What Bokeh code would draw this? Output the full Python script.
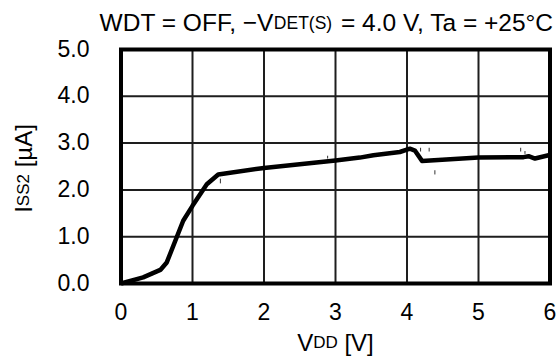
import math
from bokeh.plotting import figure
from bokeh.models import Range1d
from bokeh.core.properties import value
from bokeh.embed import file_html
from bokeh.resources import INLINE

# ---- data ----
vdd = [0.0, 0.31, 0.55, 0.64, 0.87, 1.0, 1.20, 1.36, 2.0, 3.0, 3.34, 3.53, 3.90,
       4.04, 4.11, 4.21, 5.0, 5.63, 5.70, 5.79, 5.98, 6.0]
iss = [0.0, 0.13, 0.29, 0.45, 1.34, 1.66, 2.12, 2.33, 2.47, 2.63, 2.69, 2.74, 2.81,
       2.88, 2.84, 2.62, 2.69, 2.70, 2.72, 2.67, 2.74, 2.74]

spike_x = [1.39, 2.89, 4.19, 4.31, 4.39, 5.59, 5.65]
spike_y0 = [2.14, 2.67, 2.82, 2.82, 2.33, 2.82, 2.77]
spike_y1 = [2.24, 2.73, 2.90, 2.90, 2.42, 2.90, 2.83]

x_ticks = [0, 1, 2, 3, 4, 5, 6]
x_tick_labels = ["0", "1", "2", "3", "4", "5", "6"]
y_ticks = [0, 1, 2, 3, 4, 5]
y_tick_labels = ["0.0", "1.0", "2.0", "3.0", "4.0", "5.0"]

title_parts = ["WDT = OFF, \u2212V", "DET(S)", " = 4.0 V, Ta = +25\u00b0C"]
xlabel_parts = ["V", "DD", " [V]"]
ylabel_parts = ["I", "SS2", " [\u00b5A]"]

# ---- layout (pixels) ----
FONT = "Liberation Sans"
W, H = 558, 356
FL, FR, FT, FB = 120.5, 549.5, 49.0, 283.0   # plot box edges
XMIN, XMAX, YMIN, YMAX = 0.0, 6.0, 0.0, 5.0
PX = (FR - FL) / (XMAX - XMIN)
PY = (FB - FT) / (YMAX - YMIN)
SHIFT = 8  # empirical text baseline correction

ARIAL = {"W": 944, "D": 722, "T": 611, " ": 278, "=": 584, "O": 778, "F": 611,
         ",": 278, "\u2212": 584, "V": 667, "E": 667, "(": 333, "S": 667, ")": 333,
         "4": 556, ".": 278, "0": 556, "a": 556, "+": 584, "2": 556, "5": 556,
         "\u00b0": 400, "C": 722, "I": 278, "[": 278, "]": 278, "\u00b5": 576, "A": 667}


def tw(s, size):
    return sum(ARIAL.get(c, 556) for c in s) * size / 1000.0


def dx(xpx):
    return XMIN + (xpx - FL) / PX


def dy(ypx):
    return YMIN + (FB - ypx) / PY


p = figure(width=W, height=H,
           x_range=Range1d(dx(0), dx(W)), y_range=Range1d(dy(H), dy(0)),
           x_axis_type=None, y_axis_type=None,
           output_backend="svg", toolbar_location=None, min_border=0)
p.background_fill_color = "white"
p.border_fill_color = "white"
p.outline_line_color = None
p.xgrid.visible = False
p.ygrid.visible = False

# grid lines at the tick positions
p.segment(x0=x_ticks, y0=[YMIN] * len(x_ticks), x1=x_ticks, y1=[YMAX] * len(x_ticks),
          line_color="#1e1e1e", line_width=2)
p.segment(x0=[XMIN] * len(y_ticks), y0=y_ticks, x1=[XMAX] * len(y_ticks), y1=y_ticks,
          line_color="#1e1e1e", line_width=2)

# curve
p.line(vdd, iss, line_color="black", line_width=4.5, line_join="round")
p.segment(x0=spike_x, y0=spike_y0, x1=spike_x, y1=spike_y1, line_color="#333333", line_width=1)

# plot box
p.quad(left=[XMIN], right=[XMAX], bottom=[YMIN], top=[YMAX], fill_color=None,
       line_color="black", line_width=4, line_join="miter")

TICK = "23px"
# x tick labels
p.text(x=x_ticks, y=[dy(FB + 36 - SHIFT)] * len(x_ticks), text=x_tick_labels,
       text_font=value(FONT), text_font_size=value(TICK), text_color="black",
       text_align="center", text_baseline="alphabetic")
# y tick labels
p.text(x=[dx(89)] * len(y_ticks), y=[t - (6.5 - SHIFT) / PY for t in y_ticks], text=y_tick_labels,
       text_font=value(FONT), text_font_size=value(TICK), text_color="black",
       text_align="right", text_baseline="alphabetic")


def put(x, y, s, z, ang=0.0, align="left"):
    p.text(x=[x], y=[y], text=[s], angle=ang, text_font=value(FONT),
           text_font_size=value(f"{z}px"), text_color="black",
           text_align=align, text_baseline="alphabetic")


def pieces_right(parts, sizes, right, base, gaps):
    """horizontal text, laid out from its right end"""
    pos = right
    for s, z, g in reversed(list(zip(parts, sizes, gaps))):
        core = s.lstrip(" ")
        put(dx(pos), dy(base), core, z, align="right")
        pos -= tw(s, z) + g


def pieces_up(parts, sizes, bottom, base):
    """rotated text reading bottom to top"""
    pos = bottom
    for s, z in zip(parts, sizes):
        lead = len(s) - len(s.lstrip(" "))
        pos -= tw(" " * lead, z)
        core = s.lstrip(" ")
        put(dx(base), dy(pos), core, z, ang=math.pi / 2, align="left")
        pos -= tw(core, z)


# title: right edge at 553, baseline at 30
pieces_right(title_parts, [24.5, 17.5, 24.5], 553, 30 - SHIFT, [0, 0, -3])

# x axis label centred under the box, baseline at 350
xs = [24, 17, 24]
xl_w = sum(tw(s, z) for s, z in zip(xlabel_parts, xs))
pieces_right(xlabel_parts, xs, (FL + FR) / 2 + xl_w / 2, 350 - SHIFT, [0, 0, 0])

# y axis label, rotated, baseline near x=31, centred near y=173
yl_w = sum(tw(s, z) for s, z in zip(ylabel_parts, xs))
pieces_up(ylabel_parts, xs, 173 + yl_w / 2 - 5, 31 - SHIFT)

open("out.html", "w").write(file_html(p, INLINE))
